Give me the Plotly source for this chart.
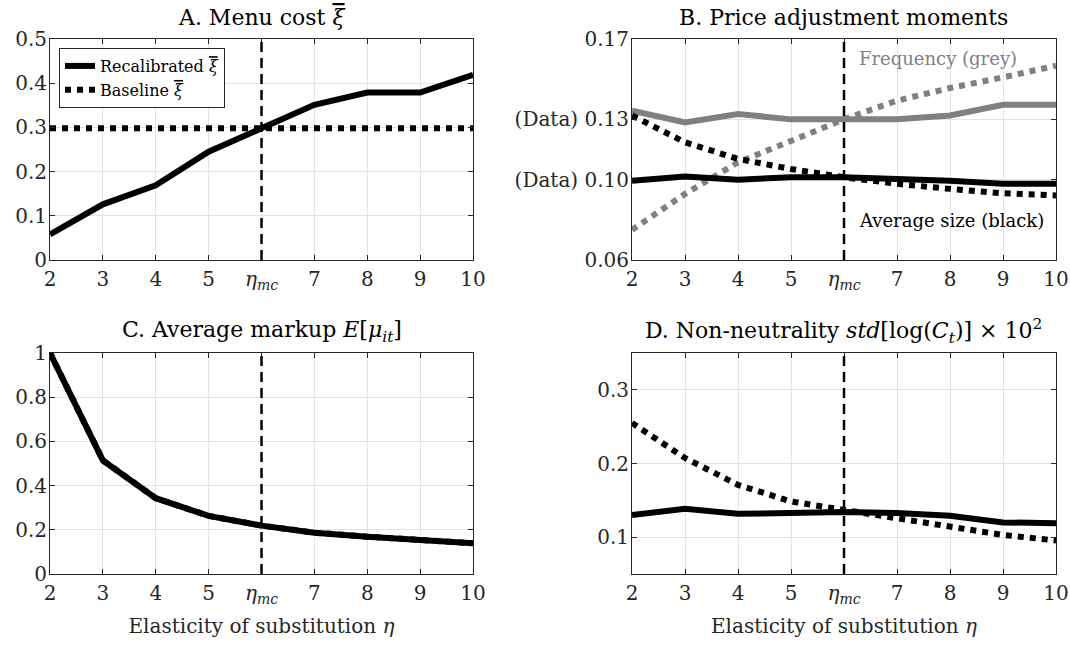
import plotly.graph_objects as go
from plotly.subplots import make_subplots

eta = [2, 3, 4, 5, 6, 7, 8, 9, 10]
x_ticktext = ["2", "3", "4", "5", "<i>η</i><sub><i>mc</i></sub>", "7", "8", "9", "10"]
eta_mc = 6

# Panel A: menu cost
menu_recal = [0.058, 0.126, 0.169, 0.245, 0.298, 0.351, 0.379, 0.379, 0.419]
menu_base = [0.298] * 9

# Panel B: price adjustment moments
freq_recal = [0.1343, 0.1285, 0.1327, 0.1300, 0.1300, 0.1300, 0.1319, 0.1373, 0.1373]
freq_base = [0.0750, 0.0929, 0.1086, 0.1194, 0.1300, 0.1393, 0.1456, 0.1509, 0.1567]
size_recal = [0.0995, 0.1015, 0.1000, 0.1012, 0.1012, 0.1007, 0.0995, 0.0979, 0.0979]
size_base = [0.1319, 0.1186, 0.1103, 0.1053, 0.1012, 0.0979, 0.0954, 0.0932, 0.0921]
b_tickvals = [0.06, 0.10, 0.13, 0.17]
b_ticktext = ["0.06", "(Data) 0.10", "(Data) 0.13", "0.17"]

# Panel C: average markup
markup_recal = [1.0, 0.514, 0.343, 0.263, 0.219, 0.187, 0.169, 0.151, 0.139]
markup_base = [1.0, 0.514, 0.343, 0.263, 0.219, 0.187, 0.169, 0.151, 0.139]

# Panel D: non-neutrality
nonneu_recal = [0.130, 0.1385, 0.1317, 0.1336, 0.134, 0.1327, 0.129, 0.120, 0.119]
nonneu_base = [0.255, 0.2075, 0.171, 0.1485, 0.137, 0.126, 0.1145, 0.103, 0.0955]

FONT = "DejaVu Serif"
BLACK = "#000000"
GREY = "#808080"
AXC = "#262626"
LW = 6
TICKSIZE = 20
TITLESIZE = 22
XI_BAR = "<i><span style=\"text-decoration:overline\">ξ</span></i>"

W, H = 1070, 646
def xp(p):
    return p / W
def yp(p):
    return 1 - p / H

fig = make_subplots(rows=2, cols=2)

def add(x, y, row, col, color, dash, name=None, legend=False):
    fig.add_trace(go.Scatter(x=x, y=y, mode="lines", name=name, showlegend=legend,
                             line=dict(color=color, width=LW, dash=dash)), row=row, col=col)

add(eta, menu_recal, 1, 1, BLACK, "solid", "Recalibrated " + XI_BAR, True)
add(eta, menu_base, 1, 1, BLACK, "dot", "Baseline " + XI_BAR, True)
add(eta, freq_recal, 1, 2, GREY, "solid")
add(eta, freq_base, 1, 2, GREY, "dot")
add(eta, size_recal, 1, 2, BLACK, "solid")
add(eta, size_base, 1, 2, BLACK, "dot")
add(eta, markup_recal, 2, 1, BLACK, "solid")
add(eta, markup_base, 2, 1, BLACK, "dot")
add(eta, nonneu_recal, 2, 2, BLACK, "solid")
add(eta, nonneu_base, 2, 2, BLACK, "dot")

xd_left = [xp(50), xp(473)]
xd_right = [xp(632), xp(1056)]
yd_top = [yp(260), yp(39)]
yd_bot = [yp(574), yp(353)]

axis_common = dict(showline=True, linecolor=AXC, linewidth=1, mirror="ticks",
                   ticks="inside", ticklen=5, tickcolor=AXC, showgrid=True,
                   gridcolor="#e3e3e3", gridwidth=1, zeroline=False, automargin=False,
                   tickfont=dict(family=FONT, size=TICKSIZE, color=AXC))

xtitle = dict(text="Elasticity of substitution <i>η</i>", standoff=12,
              font=dict(family=FONT, size=TICKSIZE, color=AXC))
xaxis_kw = dict(axis_common, range=[2, 10], tickvals=eta, ticktext=x_ticktext,
                ticklabelstandoff=1)
yaxis_kw = dict(axis_common, ticklabelstandoff=-2)
fig.update_layout(
    xaxis=dict(xaxis_kw, domain=xd_left, anchor="y"),
    xaxis2=dict(xaxis_kw, domain=xd_right, anchor="y2"),
    xaxis3=dict(xaxis_kw, domain=xd_left, anchor="y3", title=xtitle),
    xaxis4=dict(xaxis_kw, domain=xd_right, anchor="y4", title=xtitle),
    yaxis=dict(yaxis_kw, domain=yd_top, anchor="x", range=[0, 0.5],
               tickvals=[0, 0.1, 0.2, 0.3, 0.4, 0.5]),
    yaxis2=dict(yaxis_kw, domain=yd_top, anchor="x2", range=[0.06, 0.17],
                tickvals=b_tickvals, ticktext=b_ticktext),
    yaxis3=dict(yaxis_kw, domain=yd_bot, anchor="x3", range=[0, 1],
                tickvals=[0, 0.2, 0.4, 0.6, 0.8, 1]),
    yaxis4=dict(yaxis_kw, domain=yd_bot, anchor="x4", range=[0.05, 0.35],
                tickvals=[0.1, 0.2, 0.3]),
)

# vertical dashed line at eta_mc
for suf in ["", "2", "3", "4"]:
    fig.add_shape(type="line", x0=eta_mc, x1=eta_mc, y0=0, y1=1,
                  xref="x" + suf, yref=("y" + suf + " domain"),
                  line=dict(color=BLACK, width=2.5, dash="10px,6px"), layer="above")

titles = [
    ("A. Menu cost " + XI_BAR, (xd_left[0] + xd_left[1]) / 2, yp(18)),
    ("B. Price adjustment moments", (xd_right[0] + xd_right[1]) / 2, yp(18)),
    ("C. Average markup <i>E</i>[<i>μ</i><sub><i>it</i></sub>]", (xd_left[0] + xd_left[1]) / 2, yp(331)),
    ("D. Non-neutrality <i>std</i>[log(<i>C</i><sub><i>t</i></sub>)] × 10<sup>2</sup>", (xd_right[0] + xd_right[1]) / 2, yp(331)),
]
for text, x, y in titles:
    fig.add_annotation(text=text, x=x, y=y, xref="paper", yref="paper", showarrow=False,
                       xanchor="center", yanchor="middle",
                       font=dict(family=FONT, size=TITLESIZE, color="#000000"))

fig.add_annotation(text="Frequency (grey)", x=6.25, y=0.1605, xref="x2", yref="y2",
                   showarrow=False, xanchor="left", yanchor="middle",
                   font=dict(family=FONT, size=18, color=GREY))
fig.add_annotation(text="Average size (black)", x=6.25, y=0.0799, xref="x2", yref="y2",
                   showarrow=False, xanchor="left", yanchor="middle",
                   font=dict(family=FONT, size=18, color=BLACK))

fig.update_layout(
    width=W, height=H, margin=dict(l=0, r=0, t=0, b=0, autoexpand=False),
    paper_bgcolor="white", plot_bgcolor="white",
    legend=dict(x=xp(59), y=yp(48), xanchor="left", yanchor="top",
                bgcolor="white", bordercolor=AXC, borderwidth=1,
                font=dict(family=FONT, size=16, color="#000000"),
                itemwidth=30, tracegroupgap=0),
)

fig.write_html("out.html", config={"displayModeBar": False},
               post_script="document.body.style.margin='0px';"
                           "document.documentElement.style.overflow='hidden';")
